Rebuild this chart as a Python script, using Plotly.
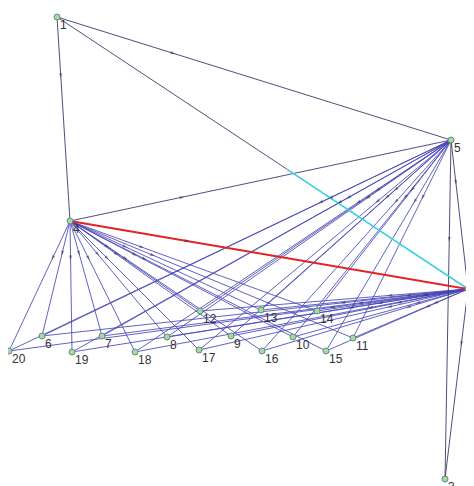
import plotly.graph_objects as go

# Node ids and their positions (layout coordinates)
node_ids = [1, 2, 3, 4, 5, 6, 7, 8, 9, 10, 11, 12, 13, 14, 15, 16, 17, 18, 19, 20]
node_x = [57, 468, 445, 70, 451, 42, 102, 167, 231, 293, 353, 200, 261, 317, 326, 262, 199, 135, 72, 9]
node_y = [17, 289, 479, 221, 140, 336, 336, 337, 336, 337, 338, 311, 310, 311, 351, 351, 350, 352, 352, 351]

# Edges
hub_edges = [(1, 4), (1, 5), (4, 5), (5, 2), (5, 3), (2, 3)]
leaf_nodes = [6, 7, 8, 9, 10, 11, 12, 13, 14, 15, 16, 17, 18, 19, 20]
leaf_hubs = [4, 5, 2]
red_edges = [(4, 2)]
cyan_edge = (1, 2)

pos = {n: (x, y) for n, x, y in zip(node_ids, node_x, node_y)}

fig = go.Figure()


def add_edges(edges, color, width):
    xs, ys = [], []
    for a, b in edges:
        xs += [pos[a][0], pos[b][0], None]
        ys += [pos[a][1], pos[b][1], None]
    fig.add_trace(go.Scatter(x=xs, y=ys, mode="lines",
                             line=dict(color=color, width=width),
                             hoverinfo="skip", showlegend=False, cliponaxis=False))


leaf_edges = [(h, n) for h in leaf_hubs for n in leaf_nodes]
add_edges(leaf_edges, "rgba(70,70,185,0.85)", 1)
add_edges(hub_edges, "rgba(60,60,110,0.9)", 1)

# 1 -> 2 edge: dark first half, cyan second half
(ax_, ay_), (bx_, by_) = pos[cyan_edge[0]], pos[cyan_edge[1]]
t = 0.56
mx, my = ax_ + (bx_ - ax_) * t, ay_ + (by_ - ay_) * t
fig.add_trace(go.Scatter(x=[ax_, mx], y=[ay_, my], mode="lines",
                         line=dict(color="rgba(60,60,110,0.9)", width=1),
                         hoverinfo="skip", showlegend=False))
fig.add_trace(go.Scatter(x=[mx, bx_], y=[my, by_], mode="lines",
                         line=dict(color="#35d0e0", width=1.6),
                         hoverinfo="skip", showlegend=False, cliponaxis=False))

add_edges(red_edges, "#e02424", 2)

# arrowheads along edges
arr_x, arr_y, arr_s = [], [], []
for a, b in hub_edges + leaf_edges + red_edges:
    (x0, y0), (x1, y1) = pos[a], pos[b]
    for f in (0.3,):
        arr_x += [x0 + (x1 - x0) * (f - 0.02), x0 + (x1 - x0) * f]
        arr_y += [y0 + (y1 - y0) * (f - 0.02), y0 + (y1 - y0) * f]
        arr_s += [0, 5]
fig.add_trace(go.Scatter(x=arr_x, y=arr_y, mode="markers",
                         marker=dict(symbol="arrow", angleref="previous", size=arr_s,
                                     color="rgba(50,50,90,0.8)", line=dict(width=0)),
                         hoverinfo="skip", showlegend=False))

# nodes
fig.add_trace(go.Scatter(x=node_x, y=node_y, mode="markers",
                         marker=dict(symbol="circle", size=6, color="#a9d8a0",
                                     line=dict(color="#5f8f78", width=1)),
                         hoverinfo="skip", showlegend=False, cliponaxis=False))

for n, x, y in zip(node_ids, node_x, node_y):
    fig.add_annotation(x=x, y=y, text=str(n), showarrow=False,
                       xanchor="left", yanchor="top", xshift=1, yshift=1,
                       font=dict(family="Liberation Sans, Arial", size=12, color="#333333"))

# The page body has an 8px margin; make the plot fill the rest of the window.
fig.update_layout(width=466, height=478, margin=dict(l=0, r=0, t=0, b=0),
                  paper_bgcolor="white", plot_bgcolor="white")
fig.update_xaxes(range=[8, 474], visible=False)
fig.update_yaxes(range=[486, 8], visible=False)

fig.write_html("out.html")
